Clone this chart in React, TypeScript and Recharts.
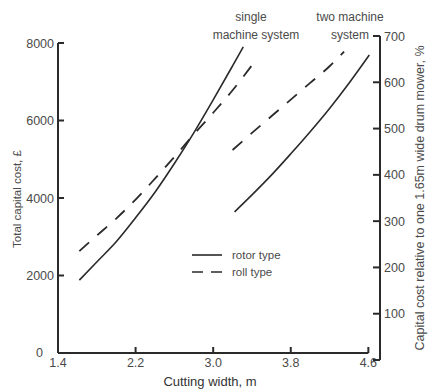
import { LineChart, Line, XAxis, YAxis, ReferenceLine, Legend } from 'recharts';

// cutting width (m) and total capital cost (£)
const singleRotorWidth = [1.62, 1.8, 2.0, 2.2, 2.4, 2.6, 2.8, 3.0, 3.2, 3.31];
const singleRotorCost = [1880, 2350, 2870, 3490, 4150, 4890, 5680, 6530, 7410, 7900];

const singleRollWidth = [1.62, 1.8, 2.0, 2.2, 2.4, 2.6, 2.8, 3.0, 3.2, 3.44];
const singleRollCost = [2630, 3030, 3470, 3960, 4500, 5060, 5640, 6200, 6780, 7560];

const twoRotorWidth = [3.22, 3.4, 3.6, 3.8, 4.0, 4.2, 4.4, 4.61];
const twoRotorCost = [3640, 4080, 4590, 5140, 5710, 6310, 6960, 7690];

const twoRollWidth = [3.2, 3.4, 3.6, 3.8, 4.0, 4.2, 4.35];
const twoRollCost = [5240, 5680, 6110, 6540, 6970, 7400, 7780];

const widthTicks = [1.4, 2.2, 3.0, 3.8, 4.6];
const costTicks = [0, 2000, 4000, 6000, 8000];
const relativeTicks = [0, 100, 200, 300, 400, 500, 600, 700];
const legendOrder = ['rotor type', 'roll type'];

const toPoints = (w: number[], c: number[]) => w.map((width, i) => ({ width, cost: c[i] }));

const INK = '#2a2a2a';
const LABEL = '#4a4a4a';
const FONT = '"Liberation Sans", Arial, sans-serif';
const DASH = '13 11';

const LeftTick = ({ x, y, payload }: any) => (
  <g>
    {payload.value > 0 && <line x1={x} x2={x + 6} y1={y} y2={y} stroke={INK} strokeWidth={2} />}
    <text
      x={payload.value === 0 ? x - 15 : x - 4}
      y={y + 4.5}
      textAnchor="end"
      fontSize={12.5}
      fill={LABEL}
      fontFamily={FONT}
    >
      {payload.value}
    </text>
  </g>
);

const RightTick = ({ x, y, payload }: any) => (
  <g>
    <line x1={x - 7} x2={x} y1={y} y2={y} stroke={INK} strokeWidth={2} />
    {payload.value > 0 && (
      <text x={x + 4} y={y + 4.5} textAnchor="start" fontSize={12.5} fill={LABEL} fontFamily={FONT}>
        {payload.value}
      </text>
    )}
  </g>
);

const BottomTick = ({ x, y, payload }: any) => (
  <g>
    {payload.value > 1.4 && <line x1={x} x2={x} y1={y - 7} y2={y - 13} stroke={INK} strokeWidth={2} />}
    <text x={x} y={y + 7} textAnchor="middle" fontSize={12.5} fill={LABEL} fontFamily={FONT}>
      {payload.value.toFixed(1)}
    </text>
  </g>
);

const LegendBox = ({ payload }: any) => {
  const items = (payload || [])
    .filter((p: any) => legendOrder.includes(p.value))
    .sort((a: any, b: any) => legendOrder.indexOf(a.value) - legendOrder.indexOf(b.value));
  return (
    <svg width={130} height={40} style={{ display: 'block' }}>
      {items.map((entry: any, i: number) => (
        <g key={entry.value} transform={`translate(0, ${9 + i * 17})`}>
          <line
            x1={2}
            x2={32}
            y1={0}
            y2={0}
            stroke={INK}
            strokeWidth={1.6}
            strokeDasharray={entry.value === 'roll type' ? '11 8' : undefined}
          />
          <text x={42} y={4} fontSize={11.5} fill={LABEL} fontFamily={FONT}>
            {entry.value}
          </text>
        </g>
      ))}
    </svg>
  );
};

export default function App() {
  return (
    <div style={{ position: 'absolute', left: 0, top: 0, width: 428, height: 389, background: '#fff' }}>
      <LineChart width={428} height={389} margin={{ top: 36, right: 0, bottom: 0, left: 0 }}>
        <XAxis
          dataKey="width"
          type="number"
          domain={[1.4, 4.72]}
          allowDataOverflow
          ticks={widthTicks}
          axisLine={false}
          tickLine={false}
          tickSize={0}
          tickMargin={0}
          height={29}
          tick={<BottomTick />}
        />
        <YAxis
          yAxisId="left"
          type="number"
          domain={[-181, 8181]}
          allowDataOverflow
          ticks={costTicks}
          axisLine={false}
          tickLine={false}
          tickSize={0}
          tickMargin={0}
          width={58}
          tick={<LeftTick />}
        />
        <YAxis
          yAxisId="right"
          orientation="right"
          type="number"
          domain={[0, 700]}
          allowDataOverflow
          ticks={relativeTicks}
          axisLine={{ stroke: INK, strokeWidth: 2 }}
          tickLine={false}
          tickSize={0}
          tickMargin={0}
          width={48}
          tick={<RightTick />}
        />
        <ReferenceLine
          yAxisId="left"
          segment={[{ x: 1.4, y: 0 }, { x: 1.4, y: 8000 }]}
          stroke={INK}
          strokeWidth={2}
        />
        <ReferenceLine
          yAxisId="left"
          segment={[{ x: 1.4, y: 0 }, { x: 4.6, y: 0 }]}
          stroke={INK}
          strokeWidth={2}
        />
        <Line
          yAxisId="left"
          data={toPoints(singleRotorWidth, singleRotorCost)}
          dataKey="cost"
          name="rotor type"
          type="monotone"
          stroke={INK}
          strokeWidth={1.6}
          dot={false}
          isAnimationActive={false}
        />
        <Line
          yAxisId="left"
          data={toPoints(singleRollWidth, singleRollCost)}
          dataKey="cost"
          name="roll type"
          type="monotone"
          stroke={INK}
          strokeWidth={1.8}
          strokeDasharray={DASH}
          dot={false}
          isAnimationActive={false}
        />
        <Line
          yAxisId="left"
          data={toPoints(twoRotorWidth, twoRotorCost)}
          dataKey="cost"
          name="two rotor"
          type="monotone"
          stroke={INK}
          strokeWidth={1.6}
          dot={false}
          legendType="none"
          isAnimationActive={false}
        />
        <Line
          yAxisId="left"
          data={toPoints(twoRollWidth, twoRollCost)}
          dataKey="cost"
          name="two roll"
          type="monotone"
          stroke={INK}
          strokeWidth={1.8}
          strokeDasharray={DASH}
          dot={false}
          legendType="none"
          isAnimationActive={false}
        />
        <Legend
          layout="horizontal"
          verticalAlign="middle"
          align="center"
          content={<LegendBox />}
          wrapperStyle={{ left: 190, top: 246, width: 130, height: 40 }}
        />
      </LineChart>
      <svg
        width={428}
        height={389}
        style={{ position: 'absolute', left: 0, top: 0, pointerEvents: 'none' }}
        fontFamily={FONT}
      >
        <text x={251} y={21} textAnchor="middle" fontSize={12} fill={LABEL}>single</text>
        <text x={256} y={39} textAnchor="middle" fontSize={12} fill={LABEL}>machine system</text>
        <text x={350} y={21} textAnchor="middle" fontSize={12} fill={LABEL}>two machine</text>
        <text x={350} y={39} textAnchor="middle" fontSize={12} fill={LABEL}>system</text>
        <text transform="translate(21,199) rotate(-90)" textAnchor="middle" fontSize={11.5} fill={LABEL}>
          Total capital cost, £
        </text>
        <text transform="translate(424,198) rotate(-90)" textAnchor="middle" fontSize={12.5} fill={LABEL}>
          Capital cost relative to one 1.65m wide drum mower, %
        </text>
        <text x={210} y={386} textAnchor="middle" fontSize={13} fill="#333">
          Cutting width, m
        </text>
      </svg>
    </div>
  );
}
